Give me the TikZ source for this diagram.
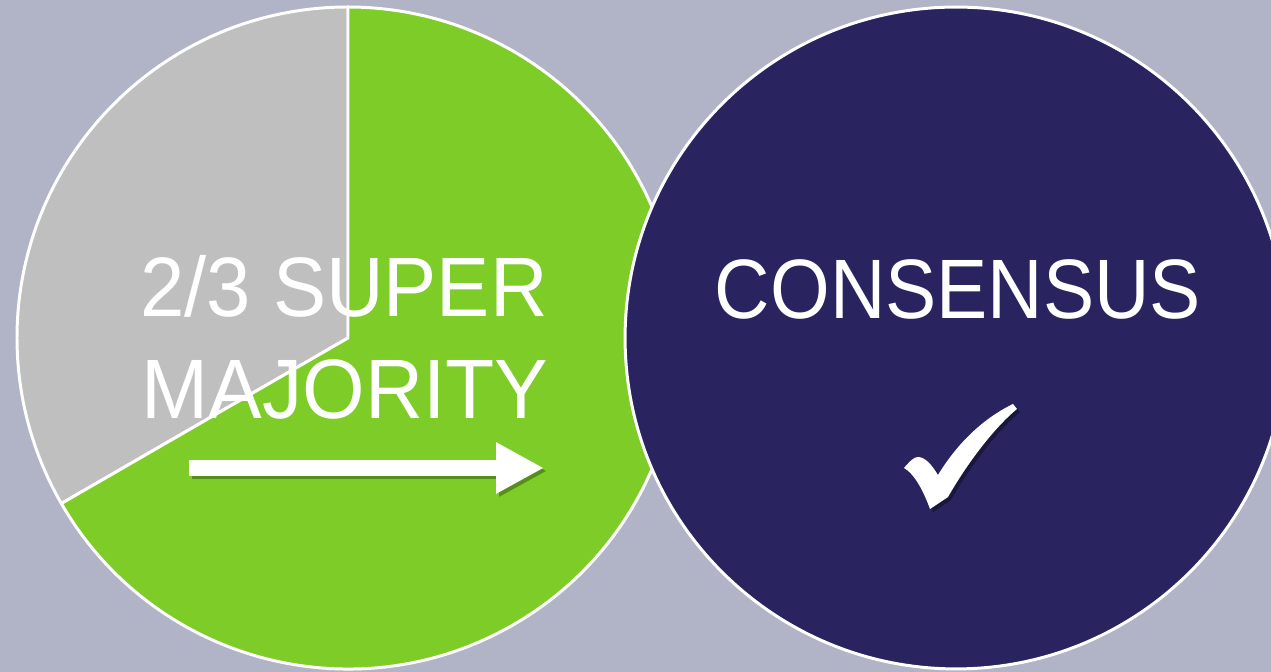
\documentclass[tikz,border=0pt]{standalone}
\usepackage{fontspec}
\setmainfont{Liberation Sans}
\usepackage{graphicx}
\usepackage{xcolor}
\usetikzlibrary{arrows.meta, positioning, calc}
\definecolor{bggray}{HTML}{B0B4C6}
\definecolor{pgray}{HTML}{BFBFBF}
\definecolor{pgreen}{HTML}{7ECC28}
\definecolor{pnavy}{HTML}{292360}
\tikzstyle{slice} = [%
  draw=white,
  line width=1.7pt,
  line join=round
]
\tikzstyle{bigtext} = [%
  text=white,
  font=\fontsize{48}{58}\selectfont,
  inner sep=0pt,
  anchor=base
]
\tikzstyle{bigarrow} = [%
  draw=white,
  line width=0.32cm,
  -{Triangle[length=0.96cm,width=0.96cm]}
]

\begin{document}
\begin{tikzpicture}[%
  x=0.02cm, y=0.02cm,
  navycirc/.style={circle,draw=white,line width=1.7pt,fill=pnavy,minimum size=13.24cm,inner sep=0pt}
]
  \useasboundingbox (0,0) rectangle (1271,672);
  \clip (0,0) rectangle (1271,672);
  \fill[bggray] (0,0) rectangle (1271,672);

  % Pie
  \coordinate (P) at (348,334);
  \draw[slice,fill=pgray] (P) -- ++(90:331) arc[start angle=90,end angle=210,radius=331] -- cycle;
  \draw[slice,fill=pgreen] (P) -- ++(210:331) arc[start angle=210,end angle=450,radius=331] -- cycle;

  % Circle
  \node[navycirc] (C2) at (956,334) {};

  % Text
  \node[bigtext] (S1) at (344,355) {\scalebox{0.945}[1]{2/3 SUPER}};
  \node[bigtext] (S2) at (345,253) {\scalebox{0.954}[1]{MAJORITY}};
  \node[bigtext] (S3) at (958,353) {\scalebox{0.91}[1]{CONSENSUS}};

  % Arrow
  \coordinate (A0) at (189,204);
  \coordinate (A1) at (544,204);
  \draw[bigarrow,draw=black,opacity=0.3] ([shift={(3,-3)}]A0) -- ([shift={(3,-3)}]A1);
  \draw[bigarrow] (A0) -- (A1);

  % Tick
  \foreach \dx/\col/\op in {3/black/0.35, 0/white/1}{
    \fill[\col,opacity=\op,shift={(\dx,-\dx)}] (904,204)
      .. controls (910,211) and (914,215) .. (918,215)
      .. controls (925,215) and (932,207) .. (938,197)
      .. controls (955,225) and (980,252) .. (1013,268)
      -- (1017,263)
      .. controls (995,245) and (968,210) .. (948,175)
      -- (930,163)
      .. controls (922,185) and (913,199) .. (904,204) -- cycle;
  }
\end{tikzpicture}
\end{document}
